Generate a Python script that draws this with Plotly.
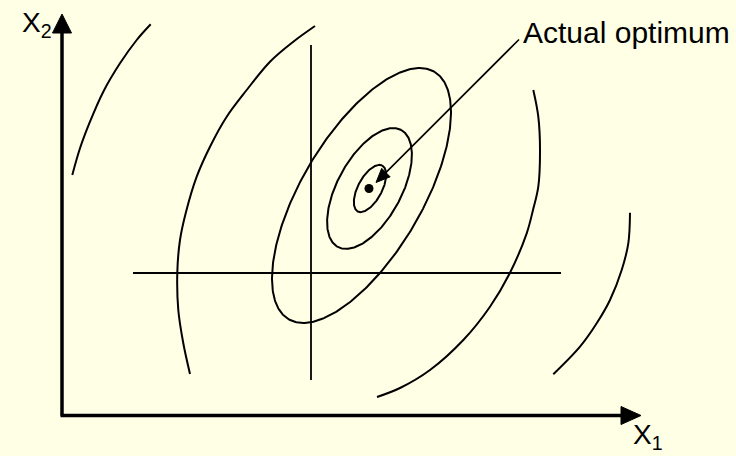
import numpy as np
import plotly.graph_objects as go

# ---- diagram data (pixel-space coordinates of the drawing) ----
# closed elliptical contours: centre x, centre y, semi-major, semi-minor, tilt (deg)
ell_cx = [361.5, 369.5, 370.0]
ell_cy = [195.5, 188.5, 188.5]
ell_a = [143.6, 66.5, 26.0]
ell_b = [60.3, 32.0, 12.0]
ell_tilt = [59.5, 61.5, 62.0]

# open contour arcs (sampled points along each hand-drawn arc)
arcA_x = [150.7, 136.7, 120.0, 103.3, 90.0, 80.0, 72.3]
arcA_y = [24.3, 40.0, 63.3, 91.7, 121.7, 148.3, 175.0]
arcA2_x = [630.0, 628.3, 621.7, 610.0, 596.7, 580.0, 553.3]
arcA2_y = [212.7, 243.3, 270.0, 300.0, 323.3, 346.7, 374.3]
arcB_x = [315.0, 293.3, 270.0, 246.7, 226.7, 210.0, 196.7, 186.0, 180.0, 177.3, 178.3, 183.3, 190.0]
arcB_y = [26.0, 41.7, 61.7, 90.0, 116.7, 146.7, 176.7, 212.0, 240.0, 272.7, 310.0, 343.3, 374.0]
arcB2_x = [533.3, 538.3, 540.0, 538.3, 533.0, 526.7, 510.0, 490.0, 463.3, 430.0, 400.0, 377.0]
arcB2_y = [90.0, 116.7, 150.0, 186.7, 210.0, 233.3, 272.7, 306.7, 340.0, 370.0, 388.0, 397.0]

# cross-hair (one-factor-at-a-time lines)
vline_x = [311, 311]
vline_y = [45, 380]
hline_x = [133, 561]
hline_y = [273, 273]

# axes
axis_origin = (62, 415.5)
axis_x_tip = 641
axis_y_tip = 14

# optimum point and pointer arrow
opt_x = [369]
opt_y = [188.5]
pointer_start = (519, 39.5)
pointer_end = (376, 182.5)

labels = {"opt": "Actual optimum", "x1": "X<sub>1</sub>", "x2": "X<sub>2</sub>"}

BG = "#FFFFE6"
FONT = "Liberation Sans, Arial, sans-serif"

fig = go.Figure()

def add_line(xs, ys, width=2, shape="linear"):
    fig.add_trace(go.Scatter(x=xs, y=ys, mode="lines", line=dict(color="black", width=width, shape=shape),
                             hoverinfo="skip", showlegend=False))

def add_triangle(tip, direction, length, half_w):
    dx, dy = direction
    n = np.hypot(dx, dy)
    dx, dy = dx / n, dy / n
    bx, by = tip[0] - dx * length, tip[1] - dy * length
    px, py = -dy, dx
    xs = [tip[0], bx + px * half_w, bx - px * half_w, tip[0]]
    ys = [tip[1], by + py * half_w, by - py * half_w, tip[1]]
    fig.add_trace(go.Scatter(x=xs, y=ys, mode="lines", fill="toself", fillcolor="black",
                             line=dict(color="black", width=1), hoverinfo="skip", showlegend=False))

# closed ellipses
t = np.linspace(0, 2 * np.pi, 361)
for cx, cy, a, b, th in zip(ell_cx, ell_cy, ell_a, ell_b, ell_tilt):
    phi = np.radians(th)
    xs = cx + a * np.cos(t) * np.cos(phi) + b * np.sin(t) * np.sin(phi)
    ys = cy - a * np.cos(t) * np.sin(phi) + b * np.sin(t) * np.cos(phi)
    add_line(xs, ys, width=2)

# open arcs
for xs, ys in [(arcA_x, arcA_y), (arcA2_x, arcA2_y), (arcB_x, arcB_y), (arcB2_x, arcB2_y)]:
    add_line(xs, ys, width=2, shape="spline")

# cross-hair
add_line(vline_x, vline_y, width=1.8)
add_line(hline_x, hline_y, width=1.8)

# axes with arrowheads
ox, oy = axis_origin
add_line([ox, ox], [oy, axis_y_tip + 15], width=3.5)
add_line([ox - 1.5, axis_x_tip - 15], [oy, oy], width=3.5)
add_triangle((ox, axis_y_tip), (0, -1), 19, 9.5)
add_triangle((axis_x_tip, oy), (1, 0), 20, 9)

# pointer arrow
sx, sy = pointer_start
ex, ey = pointer_end
dirx, diry = ex - sx, ey - sy
nn = np.hypot(dirx, diry)
add_line([sx, ex - dirx / nn * 10], [sy, ey - diry / nn * 10], width=1.6)
add_triangle((ex, ey), (dirx, diry), 14, 6)

# optimum dot
fig.add_trace(go.Scatter(x=opt_x, y=opt_y, mode="markers", marker=dict(color="black", size=9),
                         hoverinfo="skip", showlegend=False))

# labels
fig.add_annotation(x=521, y=32.7, text=labels["opt"], showarrow=False, xanchor="left", yanchor="middle",
                   font=dict(family=FONT, size=30, color="black"))
fig.add_annotation(x=20, y=24, text=labels["x2"], showarrow=False, xanchor="left", yanchor="middle",
                   font=dict(family=FONT, size=28, color="black"))
fig.add_annotation(x=631, y=436, text=labels["x1"], showarrow=False, xanchor="left", yanchor="middle",
                   font=dict(family=FONT, size=28, color="black"))

fig.update_layout(
    width=736, height=456, margin=dict(l=0, r=0, t=0, b=0),
    paper_bgcolor=BG, plot_bgcolor=BG,
    xaxis=dict(range=[0, 736], visible=False, fixedrange=True),
    yaxis=dict(range=[456, 0], visible=False, fixedrange=True),
    showlegend=False,
)

fig.write_html("out.html", config={"displayModeBar": False},
               post_script="document.body.style.margin='0';document.body.style.background='" + BG + "';")
